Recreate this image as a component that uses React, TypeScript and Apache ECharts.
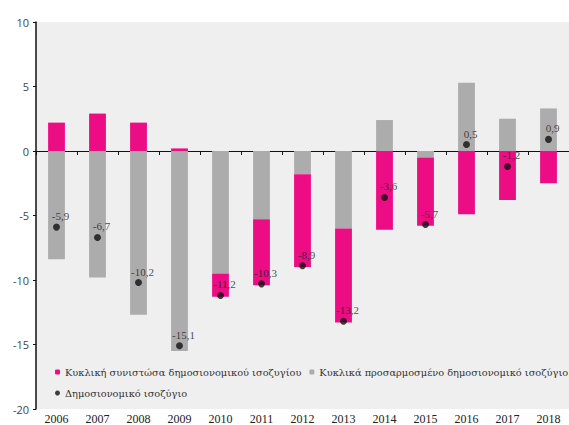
import React, { useEffect, useRef } from "react";
import * as echarts from "echarts";

const years = ["2006","2007","2008","2009","2010","2011","2012","2013","2014","2015","2016","2017","2018"];
const cyclical = [2.2, 2.9, 2.2, 0.2, -1.8, -5.1, -7.2, -7.3, -6.1, -5.3, -4.9, -3.8, -2.5];
const adjusted = [-8.4, -9.8, -12.7, -15.5, -9.5, -5.3, -1.8, -6.0, 2.4, -0.5, 5.3, 2.5, 3.3];
const balance = [-5.9, -6.7, -10.2, -15.1, -11.2, -10.3, -8.9, -13.2, -3.6, -5.7, 0.5, -1.2, 0.9];
const yTicks = [10, 5, 0, -5, -10, -15, -20];

const nameCyc = "Κυκλική συνιστώσα δημοσιονομικού ισοζυγίου";
const nameAdj = "Κυκλικά προσαρμοσμένο δημοσιονομικό ισοζύγιο";
const nameBal = "Δημοσιονομικό ισοζύγιο";

const PINK = "#ec0c84";
const GRAY = "#acacac";

export default function App() {
  const ref = useRef<HTMLDivElement>(null);
  useEffect(() => {
    if (!ref.current) return;
    const chart = echarts.init(ref.current, null, { renderer: "svg" });
    const serif = "'Liberation Serif', 'DejaVu Serif', serif";
    const legSerif = "'DejaVu Serif', serif";
    chart.setOption({
      animation: false,
      backgroundColor: "#ffffff",
      grid: {
        left: 36, right: 0, top: 22, bottom: 15,
        show: true, backgroundColor: "#efefef", borderWidth: 0,
      },
      legend: [
        {
          data: [nameCyc, nameAdj],
          left: 50, top: 362, width: 530, orient: "horizontal",
          itemWidth: 5, itemHeight: 5, itemGap: 8,
          textStyle: { fontFamily: legSerif, fontSize: 9.8, color: "#333" },
        },
        {
          data: [{ name: nameBal, icon: "circle" }],
          left: 50, top: 383,
          itemWidth: 5, itemHeight: 5,
          textStyle: { fontFamily: legSerif, fontSize: 9.8, color: "#333" },
        },
      ],
      xAxis: [
        {
          type: "category", data: years, position: "bottom",
          axisLine: { show: false, onZero: false },
          axisTick: { show: false },
          axisLabel: { fontFamily: serif, fontSize: 12, color: "#222", margin: 4 },
        },
        {
          type: "category", data: years, position: "top",
          axisLine: { show: true, onZero: true, lineStyle: { color: "#111", width: 1 } },
          axisTick: { show: true, inside: true, length: 4, lineStyle: { color: "#111" } },
          axisLabel: { show: false },
        },
      ],
      yAxis: {
        type: "value", min: -20, max: 10, interval: 5,
        splitLine: { show: false },
        axisLine: { show: true, lineStyle: { color: "#111", width: 1.5 } },
        axisTick: { show: true, length: 3, lineStyle: { color: "#111" } },
        axisLabel: { fontFamily: "'Open Sans', sans-serif", fontSize: 11, color: "#444", margin: 7 },
      },
      series: [
        {
          name: nameAdj, type: "bar", stack: "s", data: adjusted,
          barWidth: "41%", itemStyle: { color: GRAY },
        },
        {
          name: nameCyc, type: "bar", stack: "s", data: cyclical,
          barWidth: "41%", itemStyle: { color: PINK },
        },
        {
          name: nameBal, type: "scatter", data: balance,
          symbol: "circle", symbolSize: 7, itemStyle: { color: "#111" }, z: 5,
          label: {
            show: true, position: "top", distance: 2, offset: [4, 0],
            fontFamily: serif, fontSize: 11, color: "#222",
            formatter: (p: any) => String(p.value).replace(".", ","),
          },
        },
      ],
    });
    return () => chart.dispose();
  }, []);
  return <div ref={ref} style={{ width: 569, height: 425, position: "absolute", left: 0, top: 0 }} />;
}
